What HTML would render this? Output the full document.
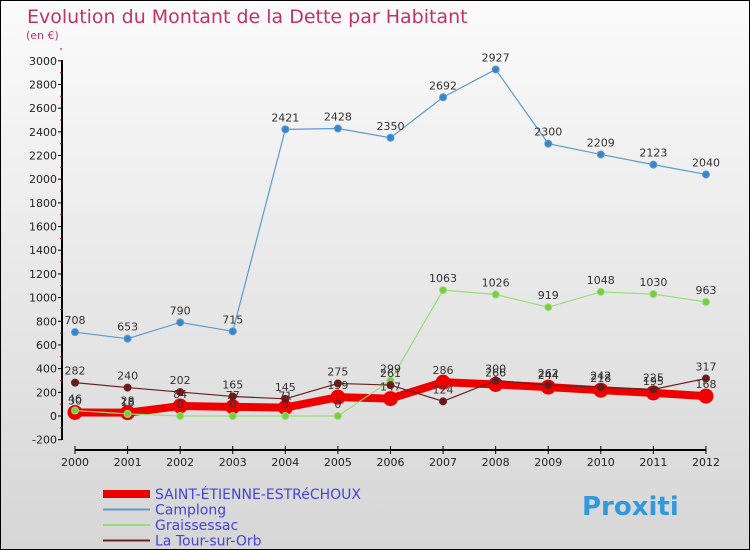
<!DOCTYPE html>
<html><head><meta charset="utf-8"><style>
body{margin:0;width:750px;height:550px;overflow:hidden;font-family:"DejaVu Sans","Liberation Sans",sans-serif}
#c{position:absolute;left:0;top:0;width:748px;height:548px;border:1px solid #000;background:linear-gradient(#fbfbfb,#d6d6d6)}
</style></head><body>
<div id="c">
<svg width="750" height="550" id="svg" style="position:absolute;left:-1px;top:-1px">
<text x="27" y="23" font-size="19" fill="#c0336a">Evolution du Montant de la Dette par Habitant</text>
<text x="26" y="39" font-size="11" fill="#c0336a">(en €)</text>
<g id="axes"></g><g id="series"></g><g id="legend"></g>
</svg></div>
<script>
const years=[2000,2001,2002,2003,2004,2005,2006,2007,2008,2009,2010,2011,2012];
const yTicks=[-200,0,200,400,600,800,1000,1200,1400,1600,1800,2000,2200,2400,2600,2800,3000];
const saint=[30,28,84,77,71,159,147,286,266,244,218,195,168];
const camplong=[708,653,790,715,2421,2428,2350,2692,2927,2300,2209,2123,2040];
const graiss=[46,18,0,0,0,0,299,1063,1026,919,1048,1030,963];
const tour=[282,240,202,165,145,275,261,124,300,262,242,225,317];
const NS="http://www.w3.org/2000/svg";
const X=i=>75+i*52.58, Y=v=>416-v*0.1184;
function el(t,a,p){const e=document.createElementNS(NS,t);for(const k in a)e.setAttribute(k,a[k]);p.appendChild(e);return e;}
const ax=document.getElementById('axes');
const yl=el('line',{x1:62,y1:60,x2:62,y2:440,stroke:'#000','stroke-width':2},ax);


yTicks.forEach(v=>{
 const t=el('text',{x:57,y:Y(v)+4,'font-size':11,'text-anchor':'end',fill:'#222'},ax);t.textContent=v;
 
 
 el('line',{x1:58,y1:Y(v),x2:62,y2:Y(v),stroke:'#000'},ax);
 el('line',{x1:60,y1:Y(v+100),x2:62,y2:Y(v+100),stroke:'#d00'},ax);
});
const xl=el('line',{x1:75,y1:450,x2:706,y2:450,stroke:'#000','stroke-width':2},ax);


years.forEach((y,i)=>{
 el('line',{x1:X(i),y1:446,x2:X(i),y2:454,stroke:'#000'},ax);
 const t=el('text',{x:X(i),y:466,'font-size':11,'text-anchor':'middle',fill:'#222'},ax);t.textContent=y;
 
 
});
const sg=document.getElementById('series');
function series(d,color,w,r,name,dot){
 const g=el('g',{},sg);
 
 
 el('polyline',{points:d.map((v,i)=>X(i)+','+Y(v)).join(' '),fill:'none',stroke:color,'stroke-width':w,'stroke-linejoin':'round'},g);
 d.forEach((v,i)=>{
  const c=el('circle',{cx:X(i),cy:Y(v),r:r,fill:dot,stroke:color,'stroke-width':1},g);
  
  
  const t=el('text',{x:X(i),y:Y(v)-8,'font-size':11,'text-anchor':'middle',fill:'#333'},g);t.textContent=v;
  
  
 });
}
series(saint,'#ee0000',8,7,'saint-etienne-series','#ee0000');
series(camplong,'#5b9bd0',1.2,3.5,'camplong-series','#3a85c8');
series(graiss,'#99dd77',1.2,3.5,'graissessac-series','#77cc44');
series(tour,'#6b1f1f',1.2,3.5,'tour-sur-orb-series','#6b1a1a');
const lg=document.getElementById('legend');
[['SAINT-ÉTIENNE-ESTRéCHOUX','#ee0000',8],['Camplong','#5b9bd0',2],['Graissessac','#99dd77',2],['La Tour-sur-Orb','#6b1f1f',2]].forEach((e,i)=>{
 const y=494+i*15.5;
 const l=el('line',{x1:103,y1:y,x2:150,y2:y,stroke:e[1],'stroke-width':e[2]},lg);
 
 
 const t=el('text',{x:155,y:y+5,'font-size':14,fill:'#4444dd'},lg);t.textContent=e[0];
 
 
});
const b=el('text',{x:582,y:515,'font-size':26,'font-weight':'bold',fill:'#3399dd'},lg);b.textContent='Proxiti';


</script>
</body></html>
